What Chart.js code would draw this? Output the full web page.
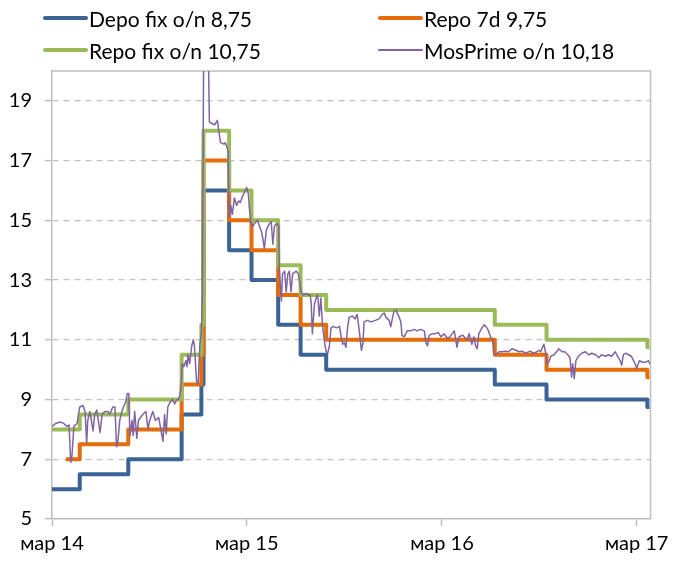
<!DOCTYPE html>
<html>
<head>
<meta charset="utf-8">
<script src="https://cdn.jsdelivr.net/npm/chart.js@4/dist/chart.umd.min.js"></script>
<style>
html,body{margin:0;padding:0;background:#fff;}
#wrap{position:relative;width:675px;height:564px;}
#c{position:absolute;left:0;top:0;}
#legend{position:absolute;left:0;top:0;width:675px;height:66px;font-family:Lato,"Open Sans",sans-serif;font-size:21px;color:#000;}
.item{position:absolute;display:flex;align-items:center;height:26px;white-space:nowrap;}
.sw{width:45px;margin-right:1px;border-radius:2px;}
</style>
</head>
<body>
<div id="wrap">
<canvas id="c" width="675" height="564"></canvas>
<div id="legend"></div>
</div>
<script>
// ---- data ----
const seriesNames = ['Depo fix o/n 8,75', 'Repo 7d 9,75', 'Repo fix o/n 10,75', 'MosPrime o/n 10,18'];
const seriesColors = ['#3B6396', '#E46C0A', '#9BBB59', '#8064A2'];

// policy-rate change dates (effective) and step values
const stepDates = ['2014-03-07','2014-04-02','2014-04-28','2014-07-28','2014-11-05','2014-12-12','2014-12-16',
                   '2015-02-02','2015-03-16','2015-05-05','2015-06-16','2015-08-03','2016-06-14','2016-09-19',
                   '2017-03-27','2017-03-31'];
const depoFix = [6, 6, 6.5, 7, 8.5, 9.5, 16, 14, 13, 11.5, 10.5, 10, 9.5, 9, 8.75, 8.75];
const repo7d  = [null, 7, 7.5, 8, 9.5, 10.5, 17, 15, 14, 12.5, 11.5, 11, 10.5, 10, 9.75, 9.75];
const repoFix = [8, 8, 8.5, 9, 10.5, 11.5, 18, 16, 15, 13.5, 12.5, 12, 11.5, 11, 10.75, 10.75];

// MosPrime o/n: [days since 2014-03-07, rate]
const mosPrime = [
[0,8.1],[7,8.2],[15,8.25],[22,8.2],[28,8.1],[32,8.15],[35,6.9],[37,7.0],[41,8.1],[47,8.2],[52,8.75],[58,8.8],
[62,8.6],[65,7.55],[67,8.3],[71,8.6],[77,7.95],[80,8.5],[84,8.65],[90,7.9],[94,8.5],[99,8.6],[105,8.6],[108,8.5],
[114,8.75],[118,8.75],[121,7.42],[123,7.5],[127,8.3],[131,8.6],[135,8.8],[138,8.9],[141,9.2],[144,9.2],[146,7.78],
[150,8.3],[152,7.8],[155,8.6],[159,7.7],[162,8.3],[166,8.4],[170,8.5],[176,8.6],[180,8.0],[183,8.3],[189,8.6],
[194,8.3],[200,8.4],[204,8.0],[208,7.6],[211,8.5],[214,7.85],[217,8.75],[221,8.9],[226,9.0],[230,8.85],[234,9.0],
[237,9.0],[239,9.1],[242,9.4],[244,10.2],[247,10.1],[251,10.3],[253,10.1],[255,10.5],[258,10.2],[262,10.8],
[265,11.0],[267,10.8],[271,9.6],[274,9.5],[277,10.8],[280,11.2],[282,12.5],[285,23.5],[288,26.5],[292,22.0],
[295,18.3],[299,18.25],[305,18.2],[310,18.35],[313,17.95],[316,17.6],[322,17.55],[325,17.6],[328,17.45],[330,17.3],
[332,15.1],[335,15.5],[338,15.2],[342,15.75],[346,15.5],[350,15.65],[353,15.6],[357,15.8],[361,15.95],[365,16.1],
[368,15.9],[370,15.4],[373,14.9],[376,14.8],[380,14.9],[385,15.0],[389,14.8],[393,14.6],[396,14.3],[398,14.05],
[402,14.7],[408,14.9],[411,14.95],[414,14.2],[417,14.8],[421,14.9],[425,14.8],[426,13.4],[430,12.3],[432,13.2],
[436,13.3],[439,12.6],[442,13.2],[445,13.3],[448,12.6],[451,13.2],[454,13.25],[458,13.3],[462,13.2],[467,12.6],
[471,12.5],[476,12.55],[481,12.5],[484,12.5],[486,12.2],[488,11.2],[492,12.2],[496,12.45],[498,12.5],[501,11.8],
[504,12.4],[507,11.5],[511,10.9],[514,10.6],[517,10.55],[520,10.8],[523,11.4],[527,11.45],[533,11.4],[539,11.45],
[542,11.1],[545,10.85],[548,10.9],[551,10.75],[554,11.4],[557,11.75],[563,11.8],[568,11.7],[572,11.85],[576,11.3],
[580,10.65],[583,10.9],[585,11.6],[591,11.65],[598,11.6],[606,11.65],[613,11.7],[619,11.85],[623,11.9],[626,11.75],
[632,11.65],[635,11.44],[639,11.8],[641,11.95],[645,12.0],[648,11.85],[651,11.75],[654,11.6],[656,11.15],[660,11.1],
[666,11.3],[673,11.3],[679,11.35],[684,11.3],[691,11.35],[698,11.3],[701,10.9],[704,10.8],[707,11.15],[712,11.2],
[718,11.2],[724,11.25],[729,11.1],[735,11.2],[741,11.05],[746,11.1],[754,11.3],[757,11.0],[759,10.75],[763,11.1],
[770,11.15],[778,11.0],[782,11.2],[787,10.85],[791,11.1],[794,10.8],[797,10.7],[800,11.2],[806,11.4],[810,11.5],
[813,11.45],[817,11.35],[822,11.1],[826,11.0],[828,10.55],[832,10.5],[838,10.6],[843,10.6],[850,10.62],[856,10.6],
[862,10.7],[870,10.65],[875,10.6],[881,10.62],[888,10.55],[896,10.62],[903,10.55],[909,10.6],[913,10.65],[916,10.6],
[922,10.85],[925,10.6],[928,10.2],[931,10.25],[935,10.45],[941,10.5],[946,10.6],[950,10.7],[956,10.6],[961,10.6],
[967,10.5],[971,10.4],[974,9.75],[976,10.2],[979,9.7],[982,10.3],[987,10.45],[993,10.55],[1000,10.6],[1006,10.5],
[1012,10.55],[1019,10.5],[1025,10.4],[1030,10.5],[1038,10.45],[1043,10.5],[1049,10.45],[1056,10.6],[1060,10.45],
[1065,10.3],[1068,10.15],[1071,10.5],[1075,10.55],[1081,10.5],[1086,10.45],[1093,10.2],[1096,10.05],[1101,10.3],
[1107,10.25],[1113,10.25],[1118,10.3],[1121,10.18]
];

const xStart = '2014-03-07';
const xEnd = '2017-04-02';
const xTickDates = ['2014-03-07', '2015-03-07', '2016-03-07', '2017-03-07'];
const xTickLabels = ['мар 14', 'мар 15', 'мар 16', 'мар 17'];
const yTicks = [5, 7, 9, 11, 13, 15, 17, 19];
const yMin = 5, yMax = 20;

// ---- helpers ----
function utc(s){ const p = s.split('-').map(Number); return Date.UTC(p[0], p[1]-1, p[2]); }
const T0 = utc(xStart);
const dayOf = s => (utc(s) - T0) / 86400000;

const stepPts = vals => stepDates.map((d, i) => ({x: dayOf(d), y: vals[i]}));
const mosPts = mosPrime.map(p => ({x: p[0], y: p[1]}));

const FONT = {family: 'Lato, "Open Sans", sans-serif', size: 20};
const AXIS = '#bfbfbf';

const framePlugin = {
  id: 'frame',
  beforeDatasetsDraw(chart){
    const {ctx, chartArea: a} = chart;
    ctx.save();
    ctx.strokeStyle = AXIS; ctx.lineWidth = 1.5;
    ctx.beginPath();
    ctx.moveTo(a.left, a.top); ctx.lineTo(a.right, a.top); ctx.lineTo(a.right, a.bottom);
    ctx.stroke();
    ctx.restore();
  }
};

const common = {pointRadius: 0, pointHoverRadius: 0, tension: 0, borderJoinStyle: 'round', fill: false, spanGaps: false};

const chart = new Chart(document.getElementById('c'), {
  type: 'line',
  data: {
    datasets: [
      Object.assign({label: seriesNames[0], data: stepPts(depoFix), borderColor: seriesColors[0], borderWidth: 4, stepped: 'before', order: 3}, common),
      Object.assign({label: seriesNames[1], data: stepPts(repo7d), borderColor: seriesColors[1], borderWidth: 4, stepped: 'before', order: 2}, common),
      Object.assign({label: seriesNames[2], data: stepPts(repoFix), borderColor: seriesColors[2], borderWidth: 4, stepped: 'before', order: 1}, common),
      Object.assign({label: seriesNames[3], data: mosPts, borderColor: seriesColors[3], borderWidth: 1.5, order: 0}, common)
    ]
  },
  options: {
    responsive: false,
    animation: false,
    devicePixelRatio: 1,
    layout: {padding: {top: 71, right: 23, left: 0, bottom: 0}},
    plugins: {legend: {display: false}, tooltip: {enabled: false}},
    scales: {
      x: {
        type: 'linear',
        min: dayOf(xStart),
        max: dayOf(xEnd),
        afterBuildTicks: ax => { ax.ticks = xTickDates.map(d => ({value: dayOf(d)})); },
        afterFit: ax => { ax.height = 45; },
        ticks: {
          autoSkip: false, maxRotation: 0, padding: 6, color: '#000', font: FONT,
          callback: (v, i) => xTickLabels[i]
        },
        grid: {drawOnChartArea: false, drawTicks: true, tickLength: 7, tickColor: AXIS, tickWidth: 1.5},
        border: {display: true, color: AXIS, width: 1.5}
      },
      y: {
        min: yMin, max: yMax,
        afterBuildTicks: ax => { ax.ticks = yTicks.map(v => ({value: v})); },
        afterFit: ax => { ax.width = 52; },
        ticks: {padding: 13, color: '#000', font: FONT},
        grid: {
          color: ctx => (ctx.tick && ctx.tick.value === yMin) ? 'rgba(0,0,0,0)' : '#c3c3c3',
          lineWidth: 1.3, drawTicks: true, tickLength: 7, tickColor: AXIS, tickWidth: 1.5
        },
        border: {display: true, color: AXIS, width: 1.5, dash: [6, 5]}
      }
    }
  },
  plugins: [framePlugin]
});

// ---- HTML legend ----
const legendPos = [[43, 5], [378, 5], [43, 37], [378, 37]];
const widths = [4, 4, 4, 1.5];
const leg = document.getElementById('legend');
seriesNames.forEach((n, i) => {
  const it = document.createElement('div');
  it.className = 'item';
  it.style.left = legendPos[i][0] + 'px';
  it.style.top = legendPos[i][1] + 'px';
  const sw = document.createElement('span');
  sw.className = 'sw';
  sw.style.height = widths[i] + 'px';
  sw.style.background = seriesColors[i];
  const tx = document.createElement('span');
  tx.textContent = n;
  it.appendChild(sw); it.appendChild(tx);
  leg.appendChild(it);
});
</script>
</body>
</html>
